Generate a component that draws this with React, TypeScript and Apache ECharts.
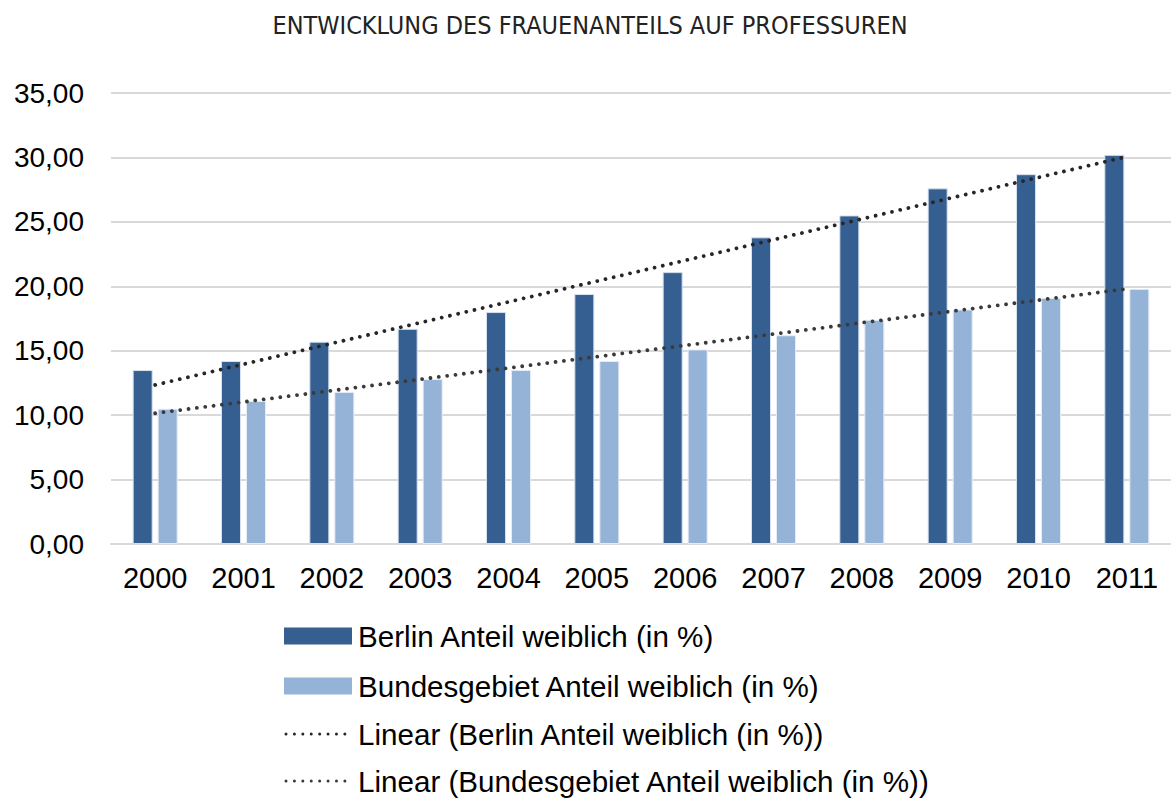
import React, { useEffect, useRef } from "react";
import * as echarts from "echarts";

const title = "ENTWICKLUNG DES FRAUENANTEILS AUF PROFESSUREN";
const years = ["2000", "2001", "2002", "2003", "2004", "2005", "2006", "2007", "2008", "2009", "2010", "2011"];
const berlinName = "Berlin Anteil weiblich (in %)";
const bundName = "Bundesgebiet Anteil weiblich (in %)";
const berlin = [13.5, 14.2, 15.7, 16.7, 18.0, 19.4, 21.1, 23.8, 25.5, 27.6, 28.7, 30.2];
const bund = [10.5, 11.1, 11.8, 12.8, 13.5, 14.2, 15.1, 16.2, 17.4, 18.2, 19.1, 19.8];
const legendNames = [
  berlinName,
  bundName,
  "Linear (" + berlinName + ")",
  "Linear (" + bundName + ")",
];

const BERLIN_COLOR = "#365F91";
const BUND_COLOR = "#95B3D7";
const TREND1 = "#262626";
const TREND2 = "#3A3A3A";

// least-squares linear trend (as Excel's "Linear" trendline)
function linearTrend(vals: number[]): number[] {
  const n = vals.length;
  const xs = vals.map((_, i) => i + 1);
  const mx = xs.reduce((a, b) => a + b, 0) / n;
  const my = vals.reduce((a, b) => a + b, 0) / n;
  let sxy = 0;
  let sxx = 0;
  for (let i = 0; i < n; i++) {
    sxy += (xs[i] - mx) * (vals[i] - my);
    sxx += (xs[i] - mx) * (xs[i] - mx);
  }
  const slope = sxy / sxx;
  const icpt = my - slope * mx;
  return xs.map((x) => +(icpt + slope * x).toFixed(4));
}

export default function App() {
  const ref = useRef<HTMLDivElement>(null);
  useEffect(() => {
    document.body.style.margin = "0";
    if (!ref.current) return;
    const chart = echarts.init(ref.current, null, { renderer: "svg" });
    const font = "'Liberation Sans', Arial, sans-serif";
    const dotted = (color: string) => ({
      color,
      width: 3.8,
      type: [0.01, 8.4] as any,
      cap: "round" as any,
    });
    const rowY = [636, 686, 734, 781];
    const legendGraphics: any[] = [];
    legendGraphics.push({
      type: "rect",
      shape: { x: 284, y: rowY[0] - 8.5, width: 68, height: 17 },
      style: { fill: BERLIN_COLOR },
    });
    legendGraphics.push({
      type: "rect",
      shape: { x: 284, y: rowY[1] - 8.5, width: 68, height: 17 },
      style: { fill: BUND_COLOR },
    });
    legendGraphics.push({
      type: "line",
      shape: { x1: 286, y1: rowY[2], x2: 350, y2: rowY[2] },
      style: { stroke: TREND1, lineWidth: 3, lineDash: [0.01, 8.4], lineCap: "round" },
    });
    legendGraphics.push({
      type: "line",
      shape: { x1: 286, y1: rowY[3], x2: 350, y2: rowY[3] },
      style: { stroke: TREND2, lineWidth: 3, lineDash: [0.01, 8.4], lineCap: "round" },
    });
    legendNames.forEach((name, i) => {
      legendGraphics.push({
        type: "text",
        x: 358,
        y: rowY[i],
        style: {
          text: name,
          fill: "#000",
          font: "29.6px " + font,
          textAlign: "left",
          textVerticalAlign: "middle",
        },
      });
    });

    chart.setOption({
      animation: false,
      graphic: [
        {
          type: "text",
          x: 590,
          y: 25,
          style: {
            text: title,
            fill: "#222",
            font: "25px 'DejaVu Sans Condensed', 'Open Sans', sans-serif",
            textAlign: "center",
            textVerticalAlign: "middle",
          },
        },
        ...legendGraphics,
      ],
      grid: { left: 111, top: 93, width: 1064, height: 451, containLabel: false },
      xAxis: {
        type: "category",
        data: years,
        axisLine: { lineStyle: { color: "#D9D9D9", width: 2 } },
        axisTick: { show: false },
        axisLabel: { color: "#000", fontSize: 29, fontFamily: font, margin: 19 },
      },
      yAxis: {
        type: "value",
        min: 0,
        max: 35,
        interval: 5,
        axisLine: { show: false },
        axisTick: { show: false },
        splitLine: { lineStyle: { color: "#D9D9D9", width: 2 } },
        axisLabel: {
          color: "#000",
          fontSize: 28,
          fontFamily: font,
          margin: 27,
          formatter: (v: number) => v.toFixed(2).replace(".", ","),
        },
      },
      series: [
        {
          name: berlinName,
          type: "bar",
          data: berlin,
          barWidth: 20,
          barGap: "25%",
          itemStyle: { color: BERLIN_COLOR, borderColor: "#D6E0EE", borderWidth: 1 },
        },
        {
          name: bundName,
          type: "bar",
          data: bund,
          barWidth: 20,
          barGap: "25%",
          itemStyle: { color: BUND_COLOR, borderColor: "#E4ECF6", borderWidth: 1 },
        },
        {
          name: legendNames[2],
          type: "line",
          data: linearTrend(berlin),
          symbol: "none",
          lineStyle: dotted(TREND1),
          z: 5,
        },
        {
          name: legendNames[3],
          type: "line",
          data: linearTrend(bund),
          symbol: "none",
          lineStyle: dotted(TREND2),
          z: 5,
        },
      ],
    });
    return () => chart.dispose();
  }, []);
  return <div ref={ref} style={{ width: 1171, height: 798 }} />;
}
